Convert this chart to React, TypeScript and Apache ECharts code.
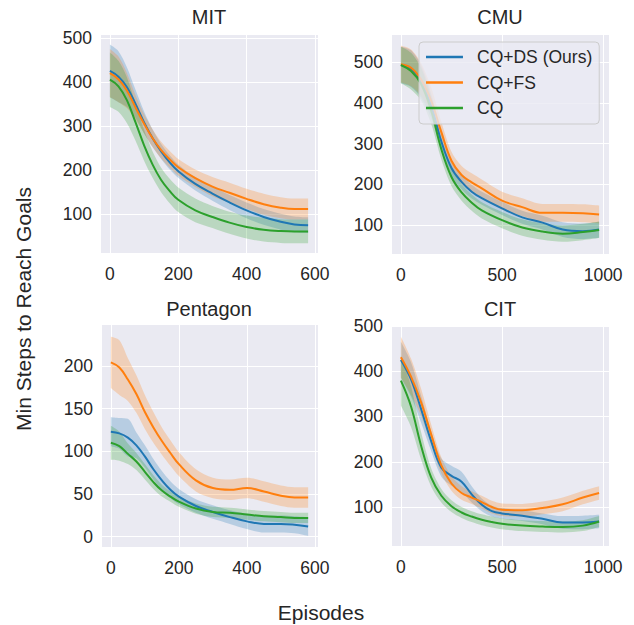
import React, { useEffect, useRef } from "react";
import * as echarts from "echarts";

// ---------- data ----------
const SERIES_NAMES = ["CQ+DS (Ours)", "CQ+FS", "CQ"];
const PANEL_TITLES = ["MIT", "CMU", "Pentagon", "CIT"];
const X_LABEL = "Episodes";
const Y_LABEL = "Min Steps to Reach Goals";

// MIT
const MIT_X = [0, 25, 50, 75, 100, 125, 150, 175, 200, 250, 300, 350, 400, 450, 500, 540, 580];
const MIT_DS = [425, 412, 388, 350, 308, 272, 242, 217, 197, 168, 146, 126, 108, 93, 82, 76, 74];
const MIT_DS_CI = [60, 58, 45, 32, 25, 20, 17, 16, 15, 15, 16, 17, 18, 18, 18, 18, 18];
const MIT_FS = [420, 406, 380, 342, 305, 272, 245, 224, 206, 181, 162, 148, 134, 122, 114, 111, 111];
const MIT_FS_CI = [55, 52, 40, 28, 22, 20, 19, 19, 19, 20, 22, 23, 23, 24, 24, 24, 24];
const MIT_CQ = [405, 390, 358, 308, 256, 212, 177, 152, 132, 108, 93, 80, 70, 64, 61, 60, 60];
const MIT_CQ_CI = [62, 58, 52, 42, 35, 30, 28, 28, 28, 27, 25, 25, 26, 27, 27, 27, 27];

// CMU
const CMU_X = [0, 50, 100, 150, 200, 250, 300, 350, 400, 500, 600, 700, 800, 900, 980];
const CMU_DS = [493, 484, 452, 392, 305, 240, 206, 182, 166, 141, 119, 106, 89, 85, 89];
const CMU_DS_CI = [45, 45, 40, 30, 22, 20, 18, 17, 16, 16, 16, 17, 18, 19, 20];
const CMU_FS = [495, 486, 457, 405, 328, 258, 223, 205, 190, 160, 144, 130, 130, 129, 126];
const CMU_FS_CI = [45, 45, 40, 32, 25, 22, 22, 22, 22, 22, 22, 22, 22, 22, 22];
const CMU_CQ = [493, 478, 446, 380, 286, 218, 180, 155, 136, 112, 94, 84, 79, 83, 88];
const CMU_CQ_CI = [45, 45, 40, 32, 25, 22, 20, 20, 20, 20, 20, 20, 20, 20, 20];

// Pentagon
const PEN_X = [0, 25, 50, 75, 100, 125, 150, 175, 200, 250, 300, 350, 400, 450, 500, 540, 580];
const PEN_DS = [123, 121, 116, 107, 94, 79, 66, 55, 47, 36, 29, 23, 18, 15, 15, 14, 12];
const PEN_DS_CI = [17, 18, 22, 15, 13, 12, 11, 10, 9, 8, 8, 8, 9, 10, 10, 10, 11];
const PEN_FS = [204, 198, 184, 167, 146, 128, 112, 98, 85, 66, 57, 55, 57, 53, 48, 46, 46];
const PEN_FS_CI = [30, 32, 25, 22, 20, 18, 16, 15, 14, 13, 12, 12, 12, 12, 12, 12, 12];
const PEN_CQ = [110, 106, 97, 88, 76, 64, 54, 47, 41, 33, 29, 28, 26, 24, 23, 22, 22];
const PEN_CQ_CI = [20, 17, 12, 10, 9, 8, 7, 6, 6, 6, 6, 6, 6, 6, 6, 6, 6];

// CIT
const CIT_X = [0, 50, 100, 150, 200, 250, 300, 350, 400, 450, 500, 600, 700, 800, 900, 980];
const CIT_DS = [425, 382, 316, 245, 187, 169, 156, 128, 105, 91, 86, 81, 74, 66, 66, 68];
const CIT_DS_CI = [40, 38, 30, 22, 20, 22, 22, 18, 14, 12, 12, 12, 12, 14, 15, 15];
const CIT_FS = [431, 388, 331, 260, 192, 152, 131, 121, 111, 100, 94, 93, 98, 106, 121, 131];
const CIT_FS_CI = [45, 40, 30, 22, 18, 16, 15, 14, 14, 14, 14, 14, 14, 15, 15, 15];
const CIT_CQ = [379, 322, 235, 165, 125, 102, 88, 79, 72, 67, 63, 59, 57, 56, 59, 68];
const CIT_CQ_CI = [55, 45, 30, 20, 15, 13, 12, 12, 12, 12, 12, 12, 12, 12, 12, 12];

// ---------- styles / layout ----------
const COLORS = ["#1f77b4", "#ff7f0e", "#2ca02c"];
const FONT = "'Liberation Sans', Arial, Helvetica, sans-serif";
const TEXT = "#262626";

const PANELS = [
  { x: MIT_X, means: [MIT_DS, MIT_FS, MIT_CQ], cis: [MIT_DS_CI, MIT_FS_CI, MIT_CQ_CI] },
  { x: CMU_X, means: [CMU_DS, CMU_FS, CMU_CQ], cis: [CMU_DS_CI, CMU_FS_CI, CMU_CQ_CI] },
  { x: PEN_X, means: [PEN_DS, PEN_FS, PEN_CQ], cis: [PEN_DS_CI, PEN_FS_CI, PEN_CQ_CI] },
  { x: CIT_X, means: [CIT_DS, CIT_FS, CIT_CQ], cis: [CIT_DS_CI, CIT_FS_CI, CIT_CQ_CI] },
];

const GRIDS = [
  { left: 100, top: 34, width: 218, height: 219 },
  { left: 391, top: 34, width: 218, height: 220 },
  { left: 101, top: 324, width: 217, height: 223 },
  { left: 391, top: 325, width: 218, height: 221 },
];
const X_RANGES = [
  { min: -29, max: 609, split: 3 },
  { min: -49, max: 1029, split: 2 },
  { min: -29, max: 609, split: 3 },
  { min: -49, max: 1029, split: 2 },
];
const Y_RANGES = [
  { min: 11, max: 509 },
  { min: 29, max: 569 },
  { min: -12, max: 249 },
  { min: 14, max: 502 },
];
const TITLE_POS = [
  { x: 209, y: 17 },
  { x: 500, y: 17 },
  { x: 209, y: 309 },
  { x: 500, y: 309 },
];

export default function App() {
  const ref = useRef<HTMLDivElement>(null);

  useEffect(() => {
    document.body.style.margin = "0";
    if (!ref.current) return;
    const chart = echarts.init(ref.current, undefined, { renderer: "svg" });

    const series: any[] = [];
    PANELS.forEach((p, k) => {
      p.means.forEach((mean, s) => {
        const ci = p.cis[s];
        // value first so that the stacked dimension is the y value
        const lower = p.x.map((x, i) => [mean[i] - ci[i], x]);
        const width = p.x.map((x, i) => [2 * ci[i], x]);
        const stack = `band-${k}-${s}`;
        series.push({
          type: "line",
          xAxisIndex: k,
          yAxisIndex: k,
          data: lower,
          encode: { x: 1, y: 0 },
          stack,
          smooth: 0.3,
          symbol: "none",
          silent: true,
          lineStyle: { opacity: 0, width: 0 },
          z: 1,
        });
        series.push({
          type: "line",
          xAxisIndex: k,
          yAxisIndex: k,
          data: width,
          encode: { x: 1, y: 0 },
          stack,
          smooth: 0.3,
          symbol: "none",
          silent: true,
          lineStyle: { opacity: 0, width: 0 },
          areaStyle: { color: COLORS[s], opacity: 0.25 },
          z: 1,
        });
      });
      p.means.forEach((mean, s) => {
        series.push({
          name: SERIES_NAMES[s],
          type: "line",
          xAxisIndex: k,
          yAxisIndex: k,
          data: p.x.map((x, i) => [x, mean[i]]),
          smooth: 0.4,
          symbol: "none",
          lineStyle: { color: COLORS[s], width: 2 },
          itemStyle: { color: COLORS[s] },
          z: 3,
        });
      });
    });

    const axisLabel = {
      color: TEXT,
      fontSize: 17.5,
      fontFamily: FONT,
      showMinLabel: false,
      showMaxLabel: false,
      formatter: (v: number) => String(v),
    };

    const option: any = {
      animation: false,
      backgroundColor: "#ffffff",
      grid: GRIDS.map((g) => ({
        ...g,
        show: true,
        backgroundColor: "#EAEAF2",
        borderWidth: 0,
        containLabel: false,
      })),
      xAxis: X_RANGES.map((r, k) => ({
        type: "value",
        gridIndex: k,
        min: r.min,
        max: r.max,
        splitNumber: r.split,
        axisLine: { show: false },
        axisTick: { show: false },
        axisLabel: { ...axisLabel, margin: 12 },
        splitLine: { show: true, lineStyle: { color: "#ffffff", width: 1 } },
      })),
      yAxis: Y_RANGES.map((r, k) => ({
        type: "value",
        gridIndex: k,
        min: r.min,
        max: r.max,
        splitNumber: 5,
        axisLine: { show: false },
        axisTick: { show: false },
        axisLabel: { ...axisLabel, margin: 8 },
        splitLine: { show: true, lineStyle: { color: "#ffffff", width: 1 } },
      })),
      legend: {
        data: SERIES_NAMES.map((n) => ({ name: n })),
        orient: "vertical",
        left: 419,
        top: 42,
        icon: "path://M0,0H37V2.5H0ZM46,0H46.05V0.05H46Z",
        itemWidth: 46,
        itemHeight: 2.5,
        itemGap: 5.5,
        padding: [5, 7, 6, 7],
        selectedMode: false,
        backgroundColor: "rgba(234,234,242,0.8)",
        borderColor: "#cccccc",
        borderWidth: 1,
        borderRadius: 4,
        textStyle: { color: TEXT, fontSize: 17.5, fontFamily: FONT, lineHeight: 20 },
      },
      graphic: [
        ...PANEL_TITLES.map((t, k) => ({
          type: "text",
          x: TITLE_POS[k].x,
          y: TITLE_POS[k].y,
          style: {
            text: t,
            fontSize: 20,
            fontFamily: FONT,
            fill: TEXT,
            textAlign: "center",
            textVerticalAlign: "middle",
            align: "center",
            verticalAlign: "middle",
          },
        })),
        {
          type: "text",
          x: 321,
          y: 612,
          style: {
            text: X_LABEL,
            fontSize: 21,
            fontFamily: FONT,
            fill: TEXT,
            textAlign: "center",
            textVerticalAlign: "middle",
            align: "center",
            verticalAlign: "middle",
          },
        },
        {
          type: "text",
          x: 23,
          y: 309,
          rotation: Math.PI / 2,
          style: {
            text: Y_LABEL,
            fontSize: 21,
            fontFamily: FONT,
            fill: TEXT,
            textAlign: "center",
            textVerticalAlign: "middle",
            align: "center",
            verticalAlign: "middle",
          },
        },
      ],
      series,
    };

    chart.setOption(option);
    return () => chart.dispose();
  }, []);

  return <div ref={ref} style={{ width: 634, height: 625 }} />;
}
